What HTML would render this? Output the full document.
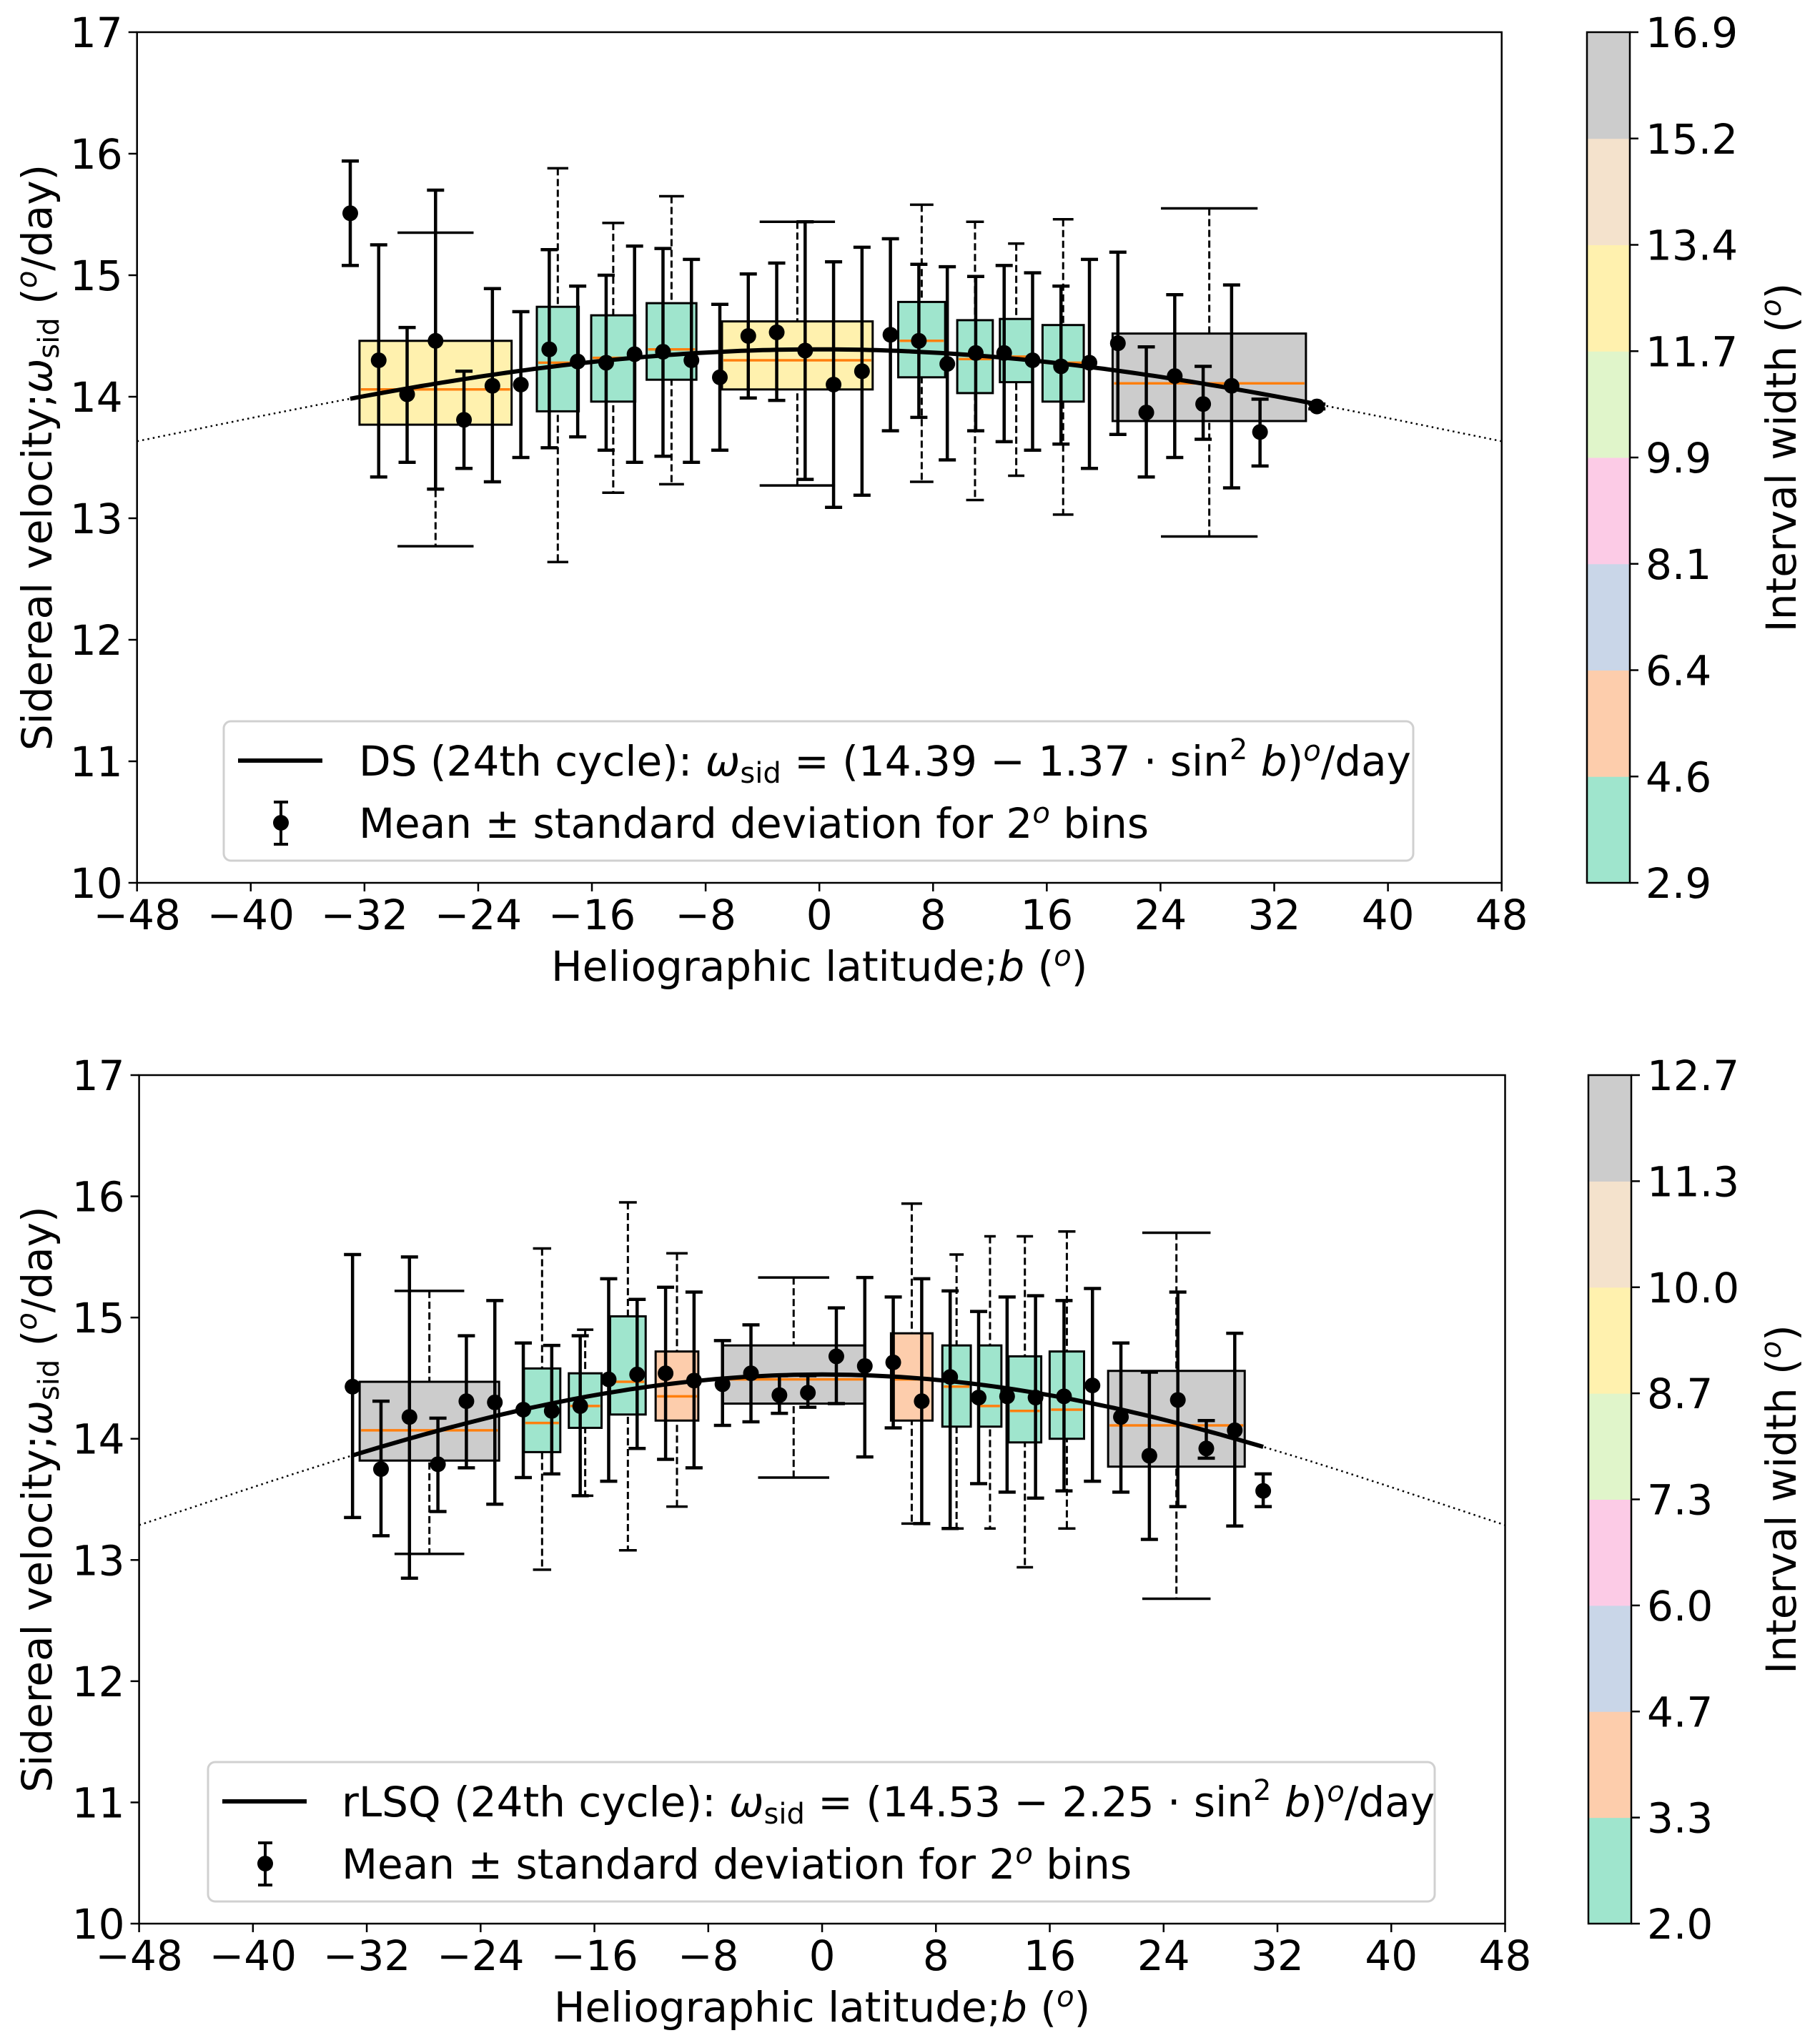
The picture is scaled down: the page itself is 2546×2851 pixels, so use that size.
<!DOCTYPE html>
<html><head><meta charset="utf-8"><style>
html,body{margin:0;padding:0;background:#fff;}
svg{display:block;font-family:"DejaVu Sans","Liberation Sans",sans-serif;}
</style></head><body>
<svg id="fig" width="2546" height="2851" viewBox="0 0 2546 2851" xmlns="http://www.w3.org/2000/svg"></svg>
<script>
// ---------- TOP PANEL DATA (DS) ----------
const topLat   = [-33,-31,-29,-27,-25,-23,-21,-19,-17,-15,-13,-11,-9,-7,-5,-3,-1,1,3,5,7,9,11,13,15,17,19,21,23,25,27,29,31,35];
const topMean  = [15.51,14.30,14.02,14.46,13.81,14.09,14.10,14.39,14.29,14.28,14.35,14.37,14.30,14.16,14.50,14.53,14.38,14.10,14.21,14.51,14.46,14.27,14.36,14.36,14.30,14.25,14.28,14.44,13.87,14.17,13.94,14.09,13.71,13.92];
const topErrHi = [15.94,15.25,14.57,15.70,14.21,14.89,14.70,15.21,14.91,15.00,15.24,15.22,15.13,14.76,15.01,15.10,15.44,15.11,15.23,15.30,15.09,15.07,14.99,15.08,15.02,14.91,15.13,15.19,14.41,14.84,14.25,14.92,13.98,13.94];
const topErrLo = [15.08,13.34,13.46,13.24,13.41,13.30,13.50,13.58,13.67,13.56,13.46,13.51,13.46,13.56,13.99,13.97,13.32,13.09,13.19,13.72,13.83,13.48,13.72,13.63,13.56,13.61,13.41,13.69,13.34,13.50,13.65,13.25,13.43,13.90];
const topBoxCenter = [-27,-18.4,-14.5,-10.4,-1.55,7.2,10.95,13.85,17.15,27.43];
const topBoxWidth  = [10.7,2.95,3.1,3.5,10.6,3.3,2.5,2.3,2.9,13.6];
const topBoxQ1     = [13.77,13.88,13.96,14.14,14.06,14.16,14.03,14.12,13.96,13.80];
const topBoxQ3     = [14.46,14.74,14.67,14.77,14.62,14.78,14.63,14.64,14.59,14.52];
const topBoxMed    = [14.06,14.28,14.32,14.39,14.30,14.46,14.31,14.33,14.28,14.11];
const topWhiskLo   = [12.77,12.64,13.21,13.28,13.27,13.30,13.15,13.35,13.03,12.85];
const topWhiskHi   = [15.35,15.88,15.43,15.65,15.44,15.58,15.44,15.26,15.46,15.55];
const topBoxColor  = [5,0,0,0,5,0,0,0,0,7];
const topFitCoef   = [14.39,1.37];
const topFitRange  = [-33,35.5];
const topCbarTicks = ["2.9","4.6","6.4","8.1","9.9","11.7","13.4","15.2","16.9"];

// ---------- BOTTOM PANEL DATA (rLSQ) ----------
const botLat   = [-33,-31,-29,-27,-25,-23,-21,-19,-17,-15,-13,-11,-9,-7,-5,-3,-1,1,3,5,7,9,11,13,15,17,19,21,23,25,27,29,31];
const botMean  = [14.43,13.75,14.18,13.79,14.31,14.30,14.24,14.23,14.27,14.49,14.53,14.54,14.48,14.45,14.54,14.36,14.38,14.68,14.60,14.63,14.31,14.51,14.34,14.35,14.34,14.35,14.44,14.18,13.86,14.32,13.92,14.07,13.57];
const botErrHi = [15.52,14.31,15.50,14.17,14.85,15.14,14.79,14.77,14.85,15.32,15.15,15.25,15.21,14.81,14.94,14.52,14.52,15.08,15.33,15.17,15.32,15.22,15.05,15.17,15.18,15.14,15.24,14.79,14.55,15.21,14.15,14.87,13.71];
const botErrLo = [13.35,13.20,12.85,13.40,13.76,13.46,13.68,13.71,13.53,13.65,13.92,13.83,13.76,14.11,14.14,14.21,14.26,14.29,13.85,14.09,13.30,13.26,13.63,13.56,13.51,13.57,13.65,13.56,13.17,13.44,13.84,13.28,13.44];
const botBoxCenter = [-27.6,-19.68,-16.65,-13.65,-10.2,-2.0,6.3,9.45,11.8,14.25,17.2,24.9];
const botBoxWidth  = [9.8,2.56,2.3,2.5,3.0,10.0,2.92,2.0,1.6,2.3,2.42,9.6];
const botBoxQ1     = [13.82,13.89,14.09,14.20,14.15,14.29,14.15,14.10,14.10,13.97,14.00,13.77];
const botBoxQ3     = [14.47,14.58,14.54,15.01,14.72,14.77,14.87,14.77,14.77,14.68,14.72,14.56];
const botBoxMed    = [14.07,14.13,14.27,14.47,14.35,14.49,14.49,14.43,14.27,14.23,14.24,14.11];
const botWhiskLo   = [13.05,12.92,13.53,13.08,13.44,13.68,13.30,13.26,13.26,12.94,13.26,12.68];
const botWhiskHi   = [15.22,15.57,14.90,15.95,15.53,15.33,15.94,15.52,15.67,15.67,15.71,15.70];
const botBoxColor  = [7,0,0,0,1,7,1,0,0,0,0,7];
const botFitCoef   = [14.53,2.25];
const botFitRange  = [-33,31];
const botCbarTicks = ["2.0","3.3","4.7","6.0","7.3","8.7","10.0","11.3","12.7"];

const yTicks = [10,11,12,13,14,15,16,17];
const xTicks = [-48,-40,-32,-24,-16,-8,0,8,16,24,32,40,48];
const palette = ["#9fe5cd","#fdcdac","#c9d6e8","#fccbe6","#e0f5ca","#fff1ae","#f4e2cc","#cccccc"];

const FS = 58, FSS = 40;
const NS = "http://www.w3.org/2000/svg";
const svg = document.getElementById('fig');
function el(tag, attrs, parent){
  const e = document.createElementNS(NS, tag);
  for (const k in attrs) e.setAttribute(k, attrs[k]);
  (parent||svg).appendChild(e);
  return e;
}
function txt(str, attrs, parent){
  const t = el('text', attrs, parent);
  t.textContent = str;
  return t;
}
const SUPO = `<tspan font-style="italic" font-size="${FSS}" dy="-21">o</tspan>`;

function drawPanel(p){
  const g = el('g', {});
  
  
  const X = v => p.x0 + (v + 48) / 96 * (p.x1 - p.x0);
  const Y = v => p.yb - (v - 10) / 7 * (p.yb - p.yt);

  const fit = b => p.coef[0] - p.coef[1] * Math.pow(Math.sin(b*Math.PI/180), 2);
  let d1 = '';
  for (let b = -48; b <= 48.001; b += 0.5) d1 += (d1 ? 'L' : 'M') + X(b).toFixed(1) + ',' + Y(fit(b)).toFixed(1);
  const dotted = el('path', {d:d1, fill:'none', stroke:'#000', 'stroke-width':2.5, 'stroke-dasharray':'2.5,5'}, g);
  
  

  for (let i = 0; i < p.bc.length; i++){
    const c = p.bc[i], w = p.bw[i];
    const bg = el('g', {}, g);
    
    
    const cx = X(c);
    const wl = el('line', {x1:cx, x2:cx, y1:Y(p.wh[i]), y2:Y(p.wl[i]), stroke:'#000','stroke-width':3,'stroke-dasharray':'10,5'}, bg);
    
    
    const cw = (X(c + w/4) - cx);
    [p.wh[i], p.wl[i]].forEach(v => {
      const cap = el('line', {x1:cx-cw, x2:cx+cw, y1:Y(v), y2:Y(v), stroke:'#000','stroke-width':3.5}, bg);
      
      
    });
    const r = el('rect', {x:X(c - w/2), y:Y(p.q3[i]), width:X(c + w/2) - X(c - w/2), height:Y(p.q1[i]) - Y(p.q3[i]), fill:palette[p.col[i]], stroke:'#000','stroke-width':3}, bg);
    
    
    const m = el('line', {x1:X(c - w/2)+2, x2:X(c + w/2)-2, y1:Y(p.med[i]), y2:Y(p.med[i]), stroke:'#ff7f0e','stroke-width':3.5}, bg);
    
    
  }

  let d2 = '';
  for (let b = p.fr[0]; b <= p.fr[1] + 0.001; b += 0.5) d2 += (d2 ? 'L' : 'M') + X(b).toFixed(1) + ',' + Y(fit(b)).toFixed(1);
  const solid = el('path', {d:d2, fill:'none', stroke:'#000', 'stroke-width':6}, g);
  
  

  for (let i = 0; i < p.lat.length; i++){
    const eg = el('g', {}, g);
    
    
    const x = X(p.lat[i]);
    el('line', {x1:x, x2:x, y1:Y(p.hi[i]), y2:Y(p.lo[i]), stroke:'#000','stroke-width':4.5}, eg);
    [p.hi[i], p.lo[i]].forEach(v => el('line', {x1:x-12, x2:x+12, y1:Y(v), y2:Y(v), stroke:'#000','stroke-width':4.5}, eg));
    el('circle', {cx:x, cy:Y(p.mean[i]), r:11, fill:'#000'}, eg);
  }

  const fr = el('rect', {x:p.x0, y:p.yt, width:p.x1-p.x0, height:p.yb-p.yt, fill:'none', stroke:'#000','stroke-width':2.5}, g);
  
  

  yTicks.forEach(v => {
    el('line', {x1:p.x0-12, x2:p.x0, y1:Y(v), y2:Y(v), stroke:'#000','stroke-width':2.5}, g);
    const t = txt(String(v), {x:p.x0-20, y:Y(v)+21, 'text-anchor':'end','font-size':FS}, g);
    
    
  });
  xTicks.forEach(v => {
    el('line', {x1:X(v), x2:X(v), y1:p.yb, y2:p.yb+12, stroke:'#000','stroke-width':2.5}, g);
    const t = txt(String(v).replace('-', '\u2212'), {x:X(v), y:p.yb+65, 'text-anchor':'middle','font-size':FS}, g);
    
    
  });

  const xl = el('text', {x:(p.x0+p.x1)/2, y:p.yb+137, 'text-anchor':'middle','font-size':FS}, g);
  xl.innerHTML = 'Heliographic latitude;<tspan font-style="italic">b</tspan> (' + SUPO + '<tspan dy="21">)</tspan>';
  
  

  const cy = (p.yt+p.yb)/2;
  const yl = el('text', {x:0, y:0, transform:`translate(72,${cy}) rotate(-90)`, 'text-anchor':'middle','font-size':FS}, g);
  yl.innerHTML = `Sidereal velocity;<tspan font-style="italic">ω</tspan><tspan font-size="${FSS}" dy="10">sid</tspan><tspan dy="-10"> (</tspan>` + SUPO + '<tspan dy="21">/day)</tspan>';
  
  

  const lg = el('g', {}, g);
  
  
  el('rect', {x:p.lx, y:p.ly, width:p.lw, height:195, rx:10, fill:'#fff','fill-opacity':0.85, stroke:'#d0d0d0','stroke-width':3}, lg);
  el('line', {x1:p.lx+20, x2:p.lx+138, y1:p.ly+55, y2:p.ly+55, stroke:'#000','stroke-width':6}, lg);
  const lt1 = el('text', {x:p.lx+p.tOff, y:p.ly+76, 'font-size':FS}, lg);
  lt1.innerHTML = p.label + ` (24th cycle): <tspan font-style="italic">ω</tspan><tspan font-size="${FSS}" dy="10">sid</tspan><tspan dy="-10"> = (` + p.coef[0].toFixed(2) + ' − ' + p.coef[1].toFixed(2) + ` · sin</tspan><tspan font-size="${FSS}" dy="-23">2</tspan><tspan dy="23"> </tspan><tspan font-style="italic">b</tspan>)` + SUPO + '<tspan dy="21">/day</tspan>';
  
  
  const mx = p.lx + 80;
  el('line', {x1:mx, x2:mx, y1:p.ly+113, y2:p.ly+172, stroke:'#000','stroke-width':4}, lg);
  el('line', {x1:mx-10, x2:mx+10, y1:p.ly+113, y2:p.ly+113, stroke:'#000','stroke-width':4}, lg);
  el('line', {x1:mx-10, x2:mx+10, y1:p.ly+172, y2:p.ly+172, stroke:'#000','stroke-width':4}, lg);
  el('circle', {cx:mx, cy:p.ly+142, r:11, fill:'#000'}, lg);
  const lt2 = el('text', {x:p.lx+p.tOff, y:p.ly+163, 'font-size':FS}, lg);
  lt2.innerHTML = 'Mean ± standard deviation for 2' + SUPO + '<tspan dy="21"> bins</tspan>';
  
  

  const cb = el('g', {}, g);
  
  
  const segH = (p.yb - p.yt) / 8;
  for (let k = 0; k < 8; k++){
    el('rect', {x:p.cx0, y:p.yb - (k+1)*segH, width:p.cx1-p.cx0, height:segH+0.5, fill:palette[k]}, cb);
  }
  el('rect', {x:p.cx0, y:p.yt, width:p.cx1-p.cx0, height:p.yb-p.yt, fill:'none', stroke:'#000','stroke-width':2.5}, cb);
  p.ticks.forEach((s, k) => {
    const y = p.yb - k*segH;
    el('line', {x1:p.cx1, x2:p.cx1+12, y1:y, y2:y, stroke:'#000','stroke-width':2.5}, cb);
    const t = txt(s, {x:p.cx1+22, y:y+21, 'font-size':FS}, cb);
    
    
  });
  const cl = el('text', {x:0, y:0, transform:`translate(2512,${cy}) rotate(-90)`, 'text-anchor':'middle','font-size':FS}, cb);
  cl.innerHTML = 'Interval width (' + SUPO + '<tspan dy="21">)</tspan>';
  
  
}

drawPanel({name:'top', x0:191.7, x1:2100.7, yt:45, yb:1235,
  lat:topLat, mean:topMean, hi:topErrHi, lo:topErrLo,
  bc:topBoxCenter, bw:topBoxWidth, q1:topBoxQ1, q3:topBoxQ3, med:topBoxMed, wl:topWhiskLo, wh:topWhiskHi, col:topBoxColor,
  coef:topFitCoef, fr:topFitRange, ticks:topCbarTicks, label:'DS',
  lx:313, ly:1009, lw:1664, tOff:189, cx0:2220, cx1:2280});
drawPanel({name:'bottom', x0:194.6, x1:2105.5, yt:1504, yb:2691,
  lat:botLat, mean:botMean, hi:botErrHi, lo:botErrLo,
  bc:botBoxCenter, bw:botBoxWidth, q1:botBoxQ1, q3:botBoxQ3, med:botBoxMed, wl:botWhiskLo, wh:botWhiskHi, col:botBoxColor,
  coef:botFitCoef, fr:botFitRange, ticks:botCbarTicks, label:'rLSQ',
  lx:291, ly:2465, lw:1716, tOff:187, cx0:2222, cx1:2282});
</script>
</body></html>
